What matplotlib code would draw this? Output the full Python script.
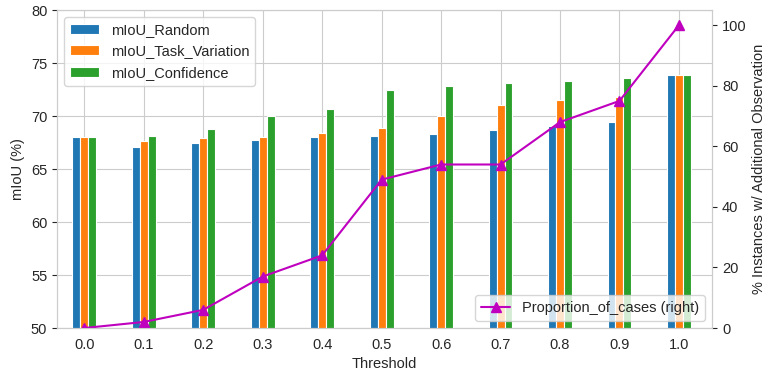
import numpy as np
import matplotlib
matplotlib.use("Agg")
import matplotlib.pyplot as plt
import seaborn as sns

thresholds = ["0.0", "0.1", "0.2", "0.3", "0.4", "0.5", "0.6", "0.7", "0.8", "0.9", "1.0"]
miou_random = [68.0, 67.05, 67.42, 67.77, 68.05, 68.1, 68.3, 68.68, 69.06, 69.43, 73.87]
miou_task_variation = [68.0, 67.6, 67.95, 68.02, 68.4, 68.9, 70.03, 71.0, 71.54, 71.8, 73.87]
miou_confidence = [68.0, 68.15, 68.74, 70.0, 70.66, 72.45, 72.83, 73.1, 73.3, 73.6, 73.87]
proportion_of_cases = [0, 2, 6, 17, 24, 49, 54, 54, 68, 75, 100]

sns.set_style("whitegrid")
plt.rcParams["font.family"] = ["Liberation Sans", "DejaVu Sans"]
plt.rcParams["font.size"] = 10.5
plt.rcParams["ytick.left"] = True
plt.rcParams["ytick.right"] = True

fig, ax = plt.subplots(figsize=(7.65, 3.73), dpi=100)
fig.subplots_adjust(left=0.0745, right=0.931, top=0.973, bottom=0.1206)

x = np.arange(len(thresholds))
w = 0.4 / 3
series = [("mIoU_Random", miou_random, "#1f77b4"),
          ("mIoU_Task_Variation", miou_task_variation, "#ff7f0e"),
          ("mIoU_Confidence", miou_confidence, "#2ca02c")]
for i, (name, vals, c) in enumerate(series):
    ax.bar(x + (i - 1) * w, vals, width=w, color=c, edgecolor="white",
           linewidth=0.8, label=name)

ax.set_xlim(-0.46, len(thresholds) - 0.44)
ax.set_ylim(50, 80)
ax.set_xticks(x)
ax.set_xticklabels(thresholds, rotation=0)
ax.set_xlabel("Threshold")
ax.set_ylabel("mIoU (%)")
ax.legend(loc="upper left")

ax2 = ax.twinx()
ax2.plot(x, proportion_of_cases, color="m", marker="^", markersize=7,
         linewidth=1.5, label="Proportion_of_cases (right)")
ax2.set_ylim(0, 105)
ax2.set_yticks([0, 20, 40, 60, 80, 100])
ax2.grid(False)
ax2.set_ylabel("% Instances w/ Additional Observation")
ax2.legend(loc="lower right")

fig.savefig("out.png")
